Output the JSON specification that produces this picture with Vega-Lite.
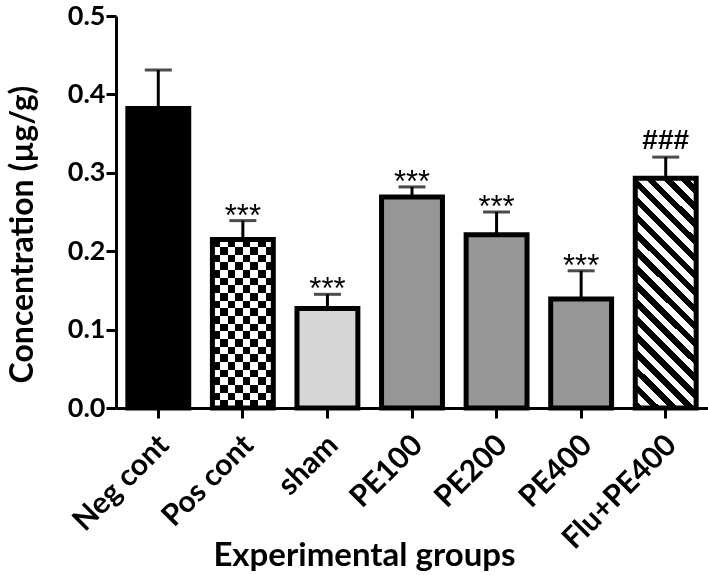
{
  "$schema": "https://vega.github.io/schema/vega-lite/v6.json",
  "autosize": "none",
  "width": 592,
  "height": 392,
  "padding": {"left": 116, "top": 16, "right": 0, "bottom": 167},
  "background": "white",
  "config": {
    "view": {"stroke": null},
    "font": "Lato",
    "axis": {"grid": false, "domainColor": "black", "domainWidth": 3, "tickColor": "black", "tickWidth": 3, "tickSize": 10, "labelColor": "black", "titleColor": "black", "labelFont": "Lato", "titleFont": "Lato", "labelFontWeight": "bold", "titleFontWeight": "bold"}
  },
  "data": {
    "values": [
      {"group": "Neg cont", "mean": 0.382, "upper": 0.431, "label": ""},
      {"group": "Pos cont", "mean": 0.215, "upper": 0.239, "label": "***"},
      {"group": "sham", "mean": 0.127, "upper": 0.145, "label": "***"},
      {"group": "PE100", "mean": 0.269, "upper": 0.282, "label": "***"},
      {"group": "PE200", "mean": 0.221, "upper": 0.25, "label": "***"},
      {"group": "PE400", "mean": 0.139, "upper": 0.175, "label": "***"},
      {"group": "Flu+PE400", "mean": 0.293, "upper": 0.32, "label": "###"}
    ]
  },
  "encoding": {
    "x": {
      "field": "group", "type": "nominal", "sort": null,
      "scale": {"paddingInner": 0.28, "paddingOuter": 0.14},
      "axis": {"title": "Experimental groups", "labelAngle": -45, "labelAlign": "right", "labelBaseline": "middle", "labelFontSize": 30, "labelPadding": 22, "labelOffset": 6, "titleFontSize": 33, "titleX": 248, "titleY": 157, "titleAnchor": null, "titleAlign": "center", "titleBaseline": "alphabetic"}
    }
  },
  "layer": [
    {
      "mark": {"type": "bar"},
      "encoding": {
        "y": {"field": "mean", "type": "quantitative", "scale": {"domain": [0, 0.5]},
          "axis": {"title": "Concentration (µg/g)", "values": [0, 0.1, 0.2, 0.3, 0.4, 0.5], "format": ".1f", "labelFontSize": 27, "labelPadding": 1, "titleFontSize": 32, "titleX": -84, "titleY": 218, "titleAngle": -90, "titleAlign": "center", "titleBaseline": "alphabetic"}},
        "color": {"field": "group", "type": "nominal", "legend": null,
          "scale": {"domain": ["Neg cont", "Pos cont", "sham", "PE100", "PE200", "PE400", "Flu+PE400"],
                    "range": ["#000000", "#808080", "#d6d6d6", "#969696", "#969696", "#969696", "#ffffff"]}}
      }
    },
    {
      "transform": [{"filter": "datum.group === 'Pos cont'"}],
      "mark": {"type": "bar", "fill": {"gradient": "linear", "x1": 0, "y1": 0, "x2": 1, "y2": 0, "stops": [
        {"offset": 0, "color": "black"}, {"offset": 0.125, "color": "black"}, {"offset": 0.125, "color": "white"}, {"offset": 0.25, "color": "white"},
        {"offset": 0.25, "color": "black"}, {"offset": 0.375, "color": "black"}, {"offset": 0.375, "color": "white"}, {"offset": 0.5, "color": "white"},
        {"offset": 0.5, "color": "black"}, {"offset": 0.625, "color": "black"}, {"offset": 0.625, "color": "white"}, {"offset": 0.75, "color": "white"},
        {"offset": 0.75, "color": "black"}, {"offset": 0.875, "color": "black"}, {"offset": 0.875, "color": "white"}, {"offset": 1, "color": "white"}]}},
      "encoding": {"y": {"field": "mean", "type": "quantitative"}}
    },
    {
      "transform": [{"filter": "datum.group === 'Pos cont'"}],
      "mark": {"type": "bar", "blend": "difference", "fill": {"gradient": "linear", "x1": 0, "y1": 0, "x2": 0, "y2": 1, "stops": [
        {"offset": 0, "color": "black"}, {"offset": 0.0455, "color": "black"}, {"offset": 0.0455, "color": "white"}, {"offset": 0.0909, "color": "white"},
        {"offset": 0.0909, "color": "black"}, {"offset": 0.1364, "color": "black"}, {"offset": 0.1364, "color": "white"}, {"offset": 0.1818, "color": "white"},
        {"offset": 0.1818, "color": "black"}, {"offset": 0.2273, "color": "black"}, {"offset": 0.2273, "color": "white"}, {"offset": 0.2727, "color": "white"},
        {"offset": 0.2727, "color": "black"}, {"offset": 0.3182, "color": "black"}, {"offset": 0.3182, "color": "white"}, {"offset": 0.3636, "color": "white"},
        {"offset": 0.3636, "color": "black"}, {"offset": 0.4091, "color": "black"}, {"offset": 0.4091, "color": "white"}, {"offset": 0.4545, "color": "white"},
        {"offset": 0.4545, "color": "black"}, {"offset": 0.5, "color": "black"}, {"offset": 0.5, "color": "white"}, {"offset": 0.5455, "color": "white"},
        {"offset": 0.5455, "color": "black"}, {"offset": 0.5909, "color": "black"}, {"offset": 0.5909, "color": "white"}, {"offset": 0.6364, "color": "white"},
        {"offset": 0.6364, "color": "black"}, {"offset": 0.6818, "color": "black"}, {"offset": 0.6818, "color": "white"}, {"offset": 0.7273, "color": "white"},
        {"offset": 0.7273, "color": "black"}, {"offset": 0.7727, "color": "black"}, {"offset": 0.7727, "color": "white"}, {"offset": 0.8182, "color": "white"},
        {"offset": 0.8182, "color": "black"}, {"offset": 0.8636, "color": "black"}, {"offset": 0.8636, "color": "white"}, {"offset": 0.9091, "color": "white"},
        {"offset": 0.9091, "color": "black"}, {"offset": 0.9545, "color": "black"}, {"offset": 0.9545, "color": "white"}, {"offset": 1, "color": "white"}]}},
      "encoding": {"y": {"field": "mean", "type": "quantitative"}}
    },
    {
      "transform": [{"filter": "datum.group === 'Flu+PE400'"}],
      "mark": {"type": "bar", "fill": {"gradient": "linear", "x1": 0, "y1": 1, "x2": 0.311, "y2": -0.181, "stops": [
        {"offset": 0, "color": "black"}, {"offset": 0.0294, "color": "black"}, {"offset": 0.0294, "color": "white"}, {"offset": 0.0588, "color": "white"},
        {"offset": 0.0588, "color": "black"}, {"offset": 0.0882, "color": "black"}, {"offset": 0.0882, "color": "white"}, {"offset": 0.1176, "color": "white"},
        {"offset": 0.1176, "color": "black"}, {"offset": 0.1471, "color": "black"}, {"offset": 0.1471, "color": "white"}, {"offset": 0.1765, "color": "white"},
        {"offset": 0.1765, "color": "black"}, {"offset": 0.2059, "color": "black"}, {"offset": 0.2059, "color": "white"}, {"offset": 0.2353, "color": "white"},
        {"offset": 0.2353, "color": "black"}, {"offset": 0.2647, "color": "black"}, {"offset": 0.2647, "color": "white"}, {"offset": 0.2941, "color": "white"},
        {"offset": 0.2941, "color": "black"}, {"offset": 0.3235, "color": "black"}, {"offset": 0.3235, "color": "white"}, {"offset": 0.3529, "color": "white"},
        {"offset": 0.3529, "color": "black"}, {"offset": 0.3824, "color": "black"}, {"offset": 0.3824, "color": "white"}, {"offset": 0.4118, "color": "white"},
        {"offset": 0.4118, "color": "black"}, {"offset": 0.4412, "color": "black"}, {"offset": 0.4412, "color": "white"}, {"offset": 0.4706, "color": "white"},
        {"offset": 0.4706, "color": "black"}, {"offset": 0.5, "color": "black"}, {"offset": 0.5, "color": "white"}, {"offset": 0.5294, "color": "white"},
        {"offset": 0.5294, "color": "black"}, {"offset": 0.5588, "color": "black"}, {"offset": 0.5588, "color": "white"}, {"offset": 0.5882, "color": "white"},
        {"offset": 0.5882, "color": "black"}, {"offset": 0.6176, "color": "black"}, {"offset": 0.6176, "color": "white"}, {"offset": 0.6471, "color": "white"},
        {"offset": 0.6471, "color": "black"}, {"offset": 0.6765, "color": "black"}, {"offset": 0.6765, "color": "white"}, {"offset": 0.7059, "color": "white"},
        {"offset": 0.7059, "color": "black"}, {"offset": 0.7353, "color": "black"}, {"offset": 0.7353, "color": "white"}, {"offset": 0.7647, "color": "white"},
        {"offset": 0.7647, "color": "black"}, {"offset": 0.7941, "color": "black"}, {"offset": 0.7941, "color": "white"}, {"offset": 0.8235, "color": "white"},
        {"offset": 0.8235, "color": "black"}, {"offset": 0.8529, "color": "black"}, {"offset": 0.8529, "color": "white"}, {"offset": 0.8824, "color": "white"},
        {"offset": 0.8824, "color": "black"}, {"offset": 0.9118, "color": "black"}, {"offset": 0.9118, "color": "white"}, {"offset": 0.9412, "color": "white"},
        {"offset": 0.9412, "color": "black"}, {"offset": 0.9706, "color": "black"}, {"offset": 0.9706, "color": "white"}, {"offset": 1, "color": "white"}]}},
      "encoding": {"y": {"field": "mean", "type": "quantitative"}}
    },
    {
      "mark": {"type": "bar", "fillOpacity": 0, "stroke": "black", "strokeWidth": 5},
      "encoding": {"y": {"field": "mean", "type": "quantitative"}}
    },
    {
      "mark": {"type": "rule", "color": "black", "strokeWidth": 3},
      "encoding": {"y": {"field": "mean", "type": "quantitative"}, "y2": {"field": "upper"}}
    },
    {
      "mark": {"type": "tick", "color": "black", "size": 27, "thickness": 3, "orient": "horizontal"},
      "encoding": {"y": {"field": "upper", "type": "quantitative"}}
    },
    {
      "transform": [{"filter": "datum.label === '***'"}],
      "mark": {"type": "text", "font": "Liberation Sans", "fontSize": 31, "baseline": "alphabetic", "dy": 5, "color": "black"},
      "encoding": {"y": {"field": "upper", "type": "quantitative"}, "text": {"field": "label"}}
    },
    {
      "transform": [{"filter": "datum.label === '###'"}],
      "mark": {"type": "text", "font": "Liberation Sans", "fontSize": 28, "fontWeight": "bold", "baseline": "alphabetic", "dy": -8, "color": "black"},
      "encoding": {"y": {"field": "upper", "type": "quantitative"}, "text": {"field": "label"}}
    }
  ]
}
